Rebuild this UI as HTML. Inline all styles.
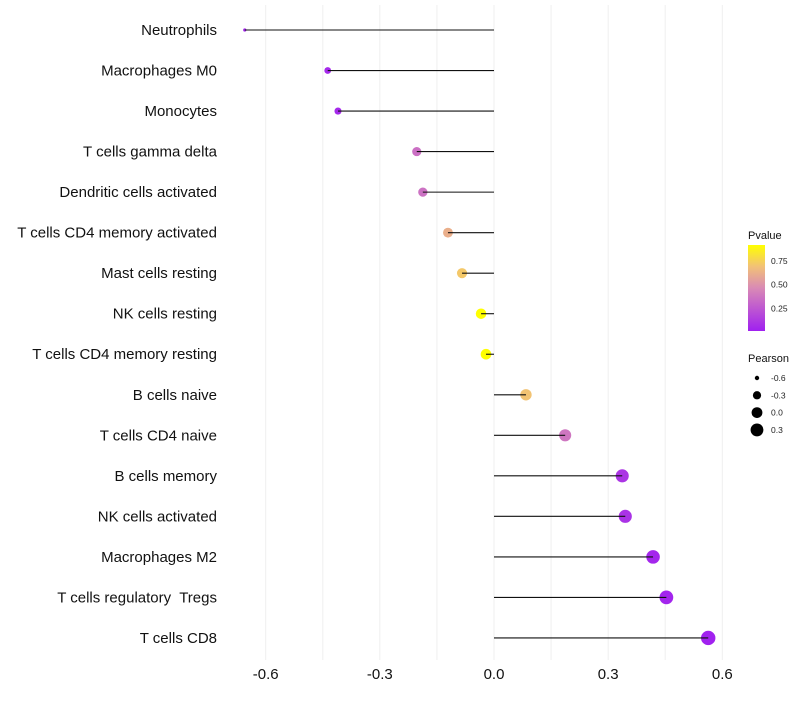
<!DOCTYPE html>
<html><head><meta charset="utf-8"><style>
body{margin:0;background:#fff;font-family:"Liberation Sans",sans-serif}
text{white-space:pre}
</style></head><body>
<svg id="chart" width="800" height="700" xmlns="http://www.w3.org/2000/svg">
<defs><linearGradient id="pg" x1="0" y1="1" x2="0" y2="0">
<stop offset="0" stop-color="#a020f0"/><stop offset="0.5" stop-color="#d98ab5"/><stop offset="0.75" stop-color="#f2c177"/><stop offset="1" stop-color="#ffff00"/></linearGradient></defs>
<g id="grid"></g><g id="marks"></g><g id="labels"></g><g id="legend"></g>
</svg>
<script>
const categories=["Neutrophils","Macrophages M0","Monocytes","T cells gamma delta","Dendritic cells activated","T cells CD4 memory activated","Mast cells resting","NK cells resting","T cells CD4 memory resting","B cells naive","T cells CD4 naive","B cells memory","NK cells activated","Macrophages M2","T cells regulatory  Tregs","T cells CD8"];
const pearson=[-0.655,-0.437,-0.41,-0.203,-0.187,-0.121,-0.084,-0.034,-0.021,0.084,0.187,0.337,0.345,0.418,0.453,0.563];
const pvalue=[0.03,0.05,0.05,0.35,0.36,0.62,0.72,0.92,0.95,0.7,0.38,0.1,0.09,0.04,0.03,0.02];
const xTicks=[-0.6,-0.3,0.0,0.3,0.6];
const pLegend=[0.25,0.5,0.75];
const sLegend=[-0.6,-0.3,0.0,0.3];
const NS="http://www.w3.org/2000/svg";
const xs=v=>494+v*380.5;
const ys=i=>30+i*40.53;
const rs=v=>7.2*Math.sqrt(Math.max(0.02,(v+0.72)/1.28));
function col(p){const t=Math.max(0,Math.min(1,(p-0.01)/0.91));
 const stops=[[0,[160,32,240]],[0.5,[217,138,181]],[0.75,[242,193,119]],[1,[255,255,0]]];
 for(let k=1;k<stops.length;k++){if(t<=stops[k][0]){const a=stops[k-1],b=stops[k],f=(t-a[0])/(b[0]-a[0]);
 return "rgb("+a[1].map((c,j)=>Math.round(c+(b[1][j]-c)*f)).join(",")+")";}}return "rgb(255,255,0)";}
function mk(tag,attrs,parent,text){const e=document.createElementNS(NS,tag);for(const k in attrs)e.setAttribute(k,attrs[k]);if(text!==undefined)e.textContent=text;parent.appendChild(e);return e;}
const grid=document.getElementById('grid'),marks=document.getElementById('marks'),labels=document.getElementById('labels'),legend=document.getElementById('legend');
for(let v=-0.75;v<=0.76;v+=0.15){const x=xs(v);if(x<230||x>770)continue;
 const l=mk('line',{x1:x,x2:x,y1:5,y2:660,stroke:'#efefef','stroke-width':1},grid);
 
 }
xTicks.forEach(v=>{const t=mk('text',{x:xs(v),y:679,'text-anchor':'middle','font-size':15,fill:'#111'},labels,v.toFixed(1));
 
 });
categories.forEach((c,i)=>{const y=ys(i);
 const t=mk('text',{x:217,y:y+5,'text-anchor':'end','font-size':15,fill:'#111'},labels,c);
 
 
 const d=mk('circle',{cx:xs(pearson[i]),cy:y,r:rs(pearson[i]),fill:col(pvalue[i])},marks);
 
 
 const l=mk('line',{x1:xs(0),x2:xs(pearson[i]),y1:y,y2:y,stroke:'#111','stroke-width':1.1},marks);
 
 });
let e=mk('text',{x:748,y:239,'font-size':11,fill:'#111'},legend,'Pvalue');


e=mk('rect',{x:748,y:245,width:17,height:86,fill:'url(#pg)'},legend);


pLegend.forEach(p=>{const y=331-(p-0.01)/0.91*86;
 const t=mk('text',{x:771,y:y+3,'font-size':8.5,fill:'#222'},legend,p.toFixed(2));
 
 });
e=mk('text',{x:748,y:362,'font-size':11,fill:'#111'},legend,'Pearson');


sLegend.forEach((v,i)=>{const y=378+i*17.3;
 const c=mk('circle',{cx:757,cy:y,r:rs(v),fill:'#000'},legend);
 
 
 const t=mk('text',{x:771,y:y+3,'font-size':8.5,fill:'#222'},legend,v.toFixed(1));
 
 });
</script>
</body></html>
